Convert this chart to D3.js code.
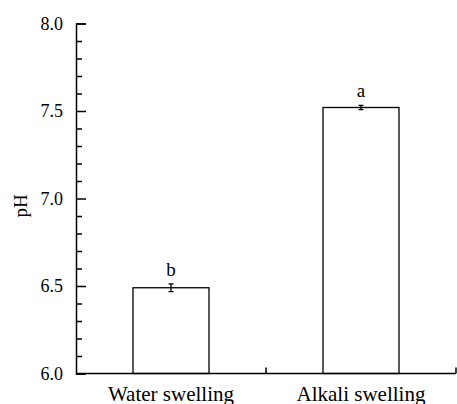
<!DOCTYPE html>
<html>
<head>
    <meta charset="utf-8">
    <title>pH</title>
    <script src="https://d3js.org/d3.v7.min.js"></script>
    <style>
        body { margin: 0; background: #fff; }
    </style>
</head>
<body>
    <div id="chart"></div>

    <script>
        // 数据
        const categories = ["Water swelling", "Alkali swelling"];
        const values = [6.49, 7.52];
        const errors = [0.022, 0.012];
        const letters = ["b", "a"];
        const majorTicks = [6.0, 6.5, 7.0, 7.5, 8.0];
        const minorTicks = [6.1, 6.2, 6.3, 6.4, 6.6, 6.7, 6.8, 6.9, 7.1, 7.2, 7.3, 7.4, 7.6, 7.7, 7.8, 7.9];

        const FONT = "'Liberation Serif', 'Times New Roman', serif";
        const W = 457, H = 404;
        const margin = {left: 76, right: 456, top: 23.5, bottom: 373.5};

        const svg = d3.select("#chart")
            .append("svg")
            .attr("width", W)
            .attr("height", H);

        const x = d3.scaleBand()
            .domain(categories)
            .range([margin.left, margin.right])
            .padding(0);

        const y = d3.scaleLinear()
            .domain([6, 8])
            .range([margin.bottom, margin.top]);

        const bw = x.bandwidth() * 0.4;

        // 柱子
        svg.selectAll(".bar")
            .data(categories)
            .enter()
            .append("rect")
            .attr("class", "bar")
            .attr("x", d => x(d) + x.bandwidth() / 2 - bw / 2)
            .attr("y", (d, i) => y(values[i]))
            .attr("width", bw)
            .attr("height", (d, i) => y(6) - y(values[i]))
            .attr("fill", "#fff")
            .attr("stroke", "#000")
            .attr("stroke-width", 1.3);

        // 误差线和显著性字母
        const eb = svg.append("g").attr("stroke", "#000").attr("stroke-width", 1.3);
        categories.forEach((c, i) => {
            const cx = x(c) + x.bandwidth() / 2;
            const y1 = y(values[i] + errors[i]), y2 = y(values[i] - errors[i]);
            eb.append("line").attr("x1", cx).attr("x2", cx).attr("y1", y1).attr("y2", y2);
            eb.append("line").attr("x1", cx - 2.5).attr("x2", cx + 2.5).attr("y1", y1).attr("y2", y1);
            eb.append("line").attr("x1", cx - 2.5).attr("x2", cx + 2.5).attr("y1", y2).attr("y2", y2);
            svg.append("text")
                .attr("x", cx)
                .attr("y", y1 - 8)
                .attr("text-anchor", "middle")
                .style("font-family", FONT)
                .style("font-size", "19px")
                .text(letters[i]);
        });

        // y轴
        const yAxis = d3.axisLeft(y)
            .tickValues(majorTicks)
            .tickSize(-10)
            .tickPadding(13)
            .tickFormat(d3.format(".1f"));
        const gy = svg.append("g")
            .attr("transform", `translate(${margin.left},0)`)
            .call(yAxis);
        gy.select(".domain").attr("stroke-width", 1.5);
        gy.selectAll(".tick line").attr("stroke-width", 1.5);
        gy.selectAll(".tick text")
            .style("font-family", FONT)
            .style("font-size", "18px");

        const gyMinor = svg.append("g")
            .attr("transform", `translate(${margin.left},0)`)
            .call(d3.axisLeft(y).tickValues(minorTicks).tickSize(-6).tickFormat(""));
        gyMinor.select(".domain").remove();
        gyMinor.selectAll(".tick line").attr("stroke-width", 1.5);

        // x轴
        const gx = svg.append("g")
            .attr("transform", `translate(0,${margin.bottom})`);
        gx.append("line")
            .attr("x1", margin.left).attr("x2", margin.right)
            .attr("stroke", "#000").attr("stroke-width", 1.5);
        gx.selectAll(".xtick")
            .data(categories)
            .enter()
            .append("line")
            .attr("class", "xtick")
            .attr("x1", d => x(d) + x.bandwidth())
            .attr("x2", d => x(d) + x.bandwidth())
            .attr("y1", 0).attr("y2", -6)
            .attr("stroke", "#000").attr("stroke-width", 1.5);
        gx.selectAll(".xlabel")
            .data(categories)
            .enter()
            .append("text")
            .attr("class", "xlabel")
            .attr("x", d => x(d) + x.bandwidth() / 2)
            .attr("y", 27)
            .attr("text-anchor", "middle")
            .style("font-family", FONT)
            .style("font-size", "21px")
            .text(d => d);

        // y轴标题
        svg.append("text")
            .attr("transform", "translate(27,206) rotate(-90)")
            .attr("text-anchor", "middle")
            .style("font-family", FONT)
            .style("font-size", "19px")
            .text("pH");
    </script>
</body>
</html>
